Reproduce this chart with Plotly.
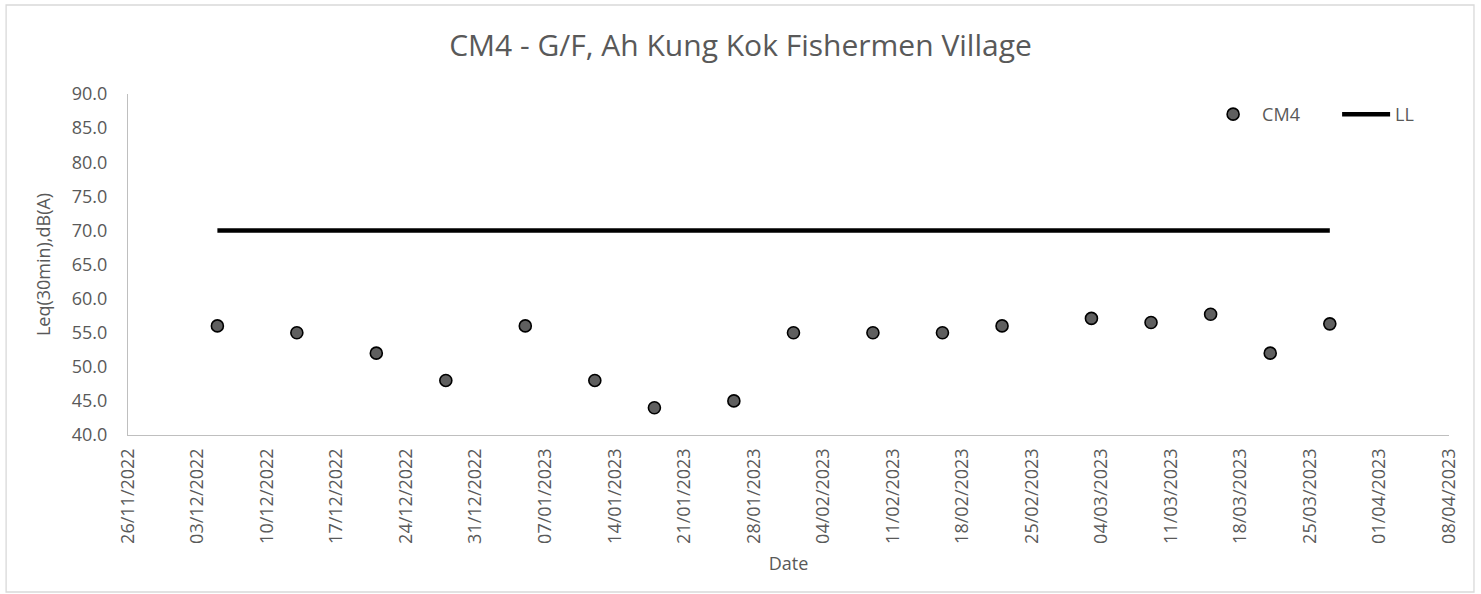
import pandas as pd
import plotly.graph_objects as go

# Monitoring dates and measured Leq(30min) at CM4
dates = ["2022-12-05", "2022-12-13", "2022-12-21", "2022-12-28", "2023-01-05",
         "2023-01-12", "2023-01-18", "2023-01-26", "2023-02-01", "2023-02-09",
         "2023-02-16", "2023-02-22", "2023-03-03", "2023-03-09", "2023-03-15",
         "2023-03-21", "2023-03-27"]
cm4_values = [56.0, 55.0, 52.0, 48.0, 56.0,
              48.0, 44.0, 45.0, 55.0, 55.0,
              55.0, 56.0, 57.1, 56.5, 57.7,
              52.0, 56.3]
# Limit level
ll_values = [70.0] * len(dates)

x_start = "2022-11-26"
x_end = "2023-04-08"
tick_dates = pd.date_range(x_start, x_end, freq="7D")
y_ticks = [40, 45, 50, 55, 60, 65, 70, 75, 80, 85, 90]

grey = "#595959"
font_family = "Open Sans, Liberation Sans, sans-serif"

fig = go.Figure()
fig.add_trace(go.Scatter(
    x=pd.to_datetime(dates), y=cm4_values, name="CM4", mode="markers",
    marker=dict(size=12, color="#5f5f5f", line=dict(color="#000000", width=1.6)),
))
fig.add_trace(go.Scatter(
    x=pd.to_datetime(dates), y=ll_values, name="LL", mode="lines",
    line=dict(color="#000000", width=4.5),
))

fig.update_layout(
    width=1481, height=594,
    margin=dict(l=128, r=31, t=94, b=159),
    paper_bgcolor="#ffffff", plot_bgcolor="#ffffff",
    font=dict(family=font_family, color=grey, size=18),
    title=dict(text="CM4 - G/F, Ah Kung Kok Fishermen Village",
               x=0.5, xanchor="center", y=1 - 45 / 594, yanchor="middle",
               font=dict(size=30, color=grey, family=font_family)),
    showlegend=True,
    legend=dict(orientation="h", x=0.814, xanchor="left", y=0.94, yanchor="middle",
                bgcolor="rgba(0,0,0,0)", font=dict(size=18, color=grey),
                itemwidth=48, entrywidth=70, tracegroupgap=0),
    xaxis=dict(
        type="date", range=[x_start, x_end],
        tickmode="array", tickvals=tick_dates,
        ticktext=[d.strftime("%d/%m/%Y") for d in tick_dates],
        tickangle=-90, showgrid=False, zeroline=False,
        showline=True, linecolor="#bfbfbf", linewidth=1.3,
        ticks="", ticklabelstandoff=5, tickfont=dict(size=18, color=grey),
        title=dict(text="Date", standoff=14, font=dict(size=18, color=grey)),
    ),
    yaxis=dict(
        range=[40, 90], tickmode="array", tickvals=y_ticks,
        ticktext=[f"{v:.1f}" for v in y_ticks],
        showgrid=False, zeroline=False,
        showline=True, linecolor="#bfbfbf", linewidth=1.3,
        ticks="", ticklabelstandoff=16, tickfont=dict(size=18, color=grey),
        title=dict(text="Leq(30min),dB(A)", standoff=16, font=dict(size=18, color=grey)),
    ),
    shapes=[dict(type="rect", xref="paper", yref="paper",
                 x0=-122 / 1322, x1=1 + 25 / 1322,
                 y0=-157 / 341, y1=1 + 89 / 341,
                 line=dict(color="#d9d9d9", width=1.3), fillcolor="rgba(0,0,0,0)",
                 layer="below")],
)

fig.write_html("out.html")
